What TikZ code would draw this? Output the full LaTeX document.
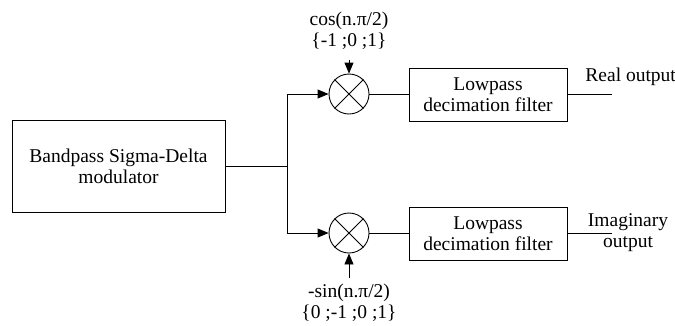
\documentclass[tikz,border=0pt]{standalone}
\usepackage{fontspec}
\setmainfont{Liberation Serif}
\usetikzlibrary{arrows.meta}
\begin{document}
\begin{tikzpicture}[x=1pt,y=-1pt,
  font=\fontsize{19.5}{21}\selectfont,
  line width=0.9pt,
  box/.style={draw, inner sep=0pt, align=center},
  mix/.style={draw, circle, minimum size=40pt, inner sep=0pt},
  lbl/.style={inner sep=0pt, align=center},
  arr/.style={-{Triangle[length=11pt,width=9pt]}}]
\useasboundingbox (0,0) rectangle (675,325);
% blocks
\node[box, minimum width=213pt, minimum height=92pt] (mod) at (118.5,166.5) {Bandpass Sigma-Delta\\modulator};
\node[mix] (m1) at (349,94) {};
\node[mix] (m2) at (349,233) {};
\draw (m1.north west) -- (m1.south east) (m1.north east) -- (m1.south west);
\draw (m2.north west) -- (m2.south east) (m2.north east) -- (m2.south west);
\node[box, minimum width=158pt, minimum height=53pt] (f1) at (488,94.5) {Lowpass\\decimation filter};
\node[box, minimum width=158pt, minimum height=53pt] (f2) at (488,233.5) {Lowpass\\decimation filter};
% labels
\node[lbl] (c1) at (349,31) {cos(n.π/2)\\\{-1 ;0 ;1\}};
\node[lbl] (c2) at (349,302.7) {-sin(n.π/2)\\\{0 ;-1 ;0 ;1\}};
\node[lbl, anchor=base west] (rl) at (585,81.7) {Real output};
\node[lbl] (il) at (628,232.4) {Imaginary\\output};
% coordinates
\coordinate (sp) at (287,166.5);
\coordinate (a1) at (349,60);
\coordinate (a2) at (349,278);
\coordinate (o1) at (612,94.5);
\coordinate (o2) at (612,233.5);
% connectors
\draw (mod.east) -- (sp);
\draw[arr] (sp) |- (m1.west);
\draw[arr] (sp) |- (m2.west);
\draw[arr] (a1) -- (m1.north);
\draw[arr] (a2) -- (m2.south);
\draw (m1.east) -- (f1.west |- m1.east);
\draw (m2.east) -- (f2.west |- m2.east);
\draw (f1.east) -- (o1);
\draw (f2.east) -- (o2);
\end{tikzpicture}
\end{document}
